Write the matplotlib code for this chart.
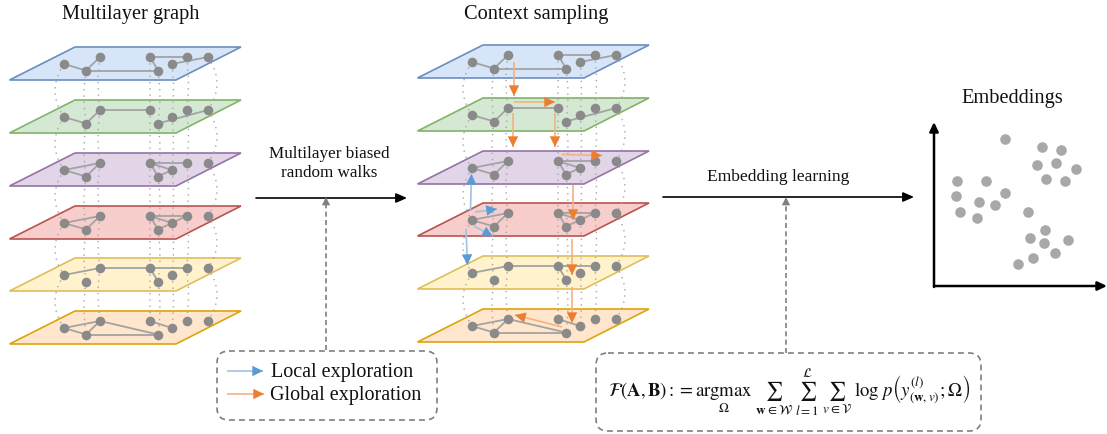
import matplotlib
matplotlib.use("Agg")
import matplotlib.pyplot as plt
from matplotlib.patches import Polygon, FancyBboxPatch, FancyArrowPatch, PathPatch
from matplotlib.path import Path

plt.rcParams['font.family'] = ['Liberation Serif', 'DejaVu Serif']
plt.rcParams['mathtext.fontset'] = 'stix'

# layers, top to bottom
layer_fill = ['#D6E5F8', '#D5E8D4', '#E1D5E7', '#F8CECC', '#FFF2CC', '#FFE6CC']
layer_edge = ['#6C8EBF', '#82B366', '#9673A6', '#B85450', '#E0BE5A', '#DFA30A']
layer_top_1 = [48, 101, 154, 207, 259, 312]
layer_top_2 = [46, 99, 152, 204, 257, 310]

# the 8 nodes, x and y relative to the top edge of the layer
node_x = [64, 86, 100, 150, 158, 172, 186.5, 208]
node_dy = [17, 23.5, 10, 10, 23.5, 17, 10, 10]
# sideways bow of the dotted link between layers
node_bow = [-9, -2, -2, 0, 2, 1.5, 2, 9]

edges = [
    [(0, 1), (1, 2), (1, 4), (3, 4), (3, 6), (5, 7)],
    [(0, 1), (1, 2), (2, 3), (4, 7)],
    [(0, 2), (0, 1), (1, 2), (3, 6), (3, 5), (3, 4), (4, 5)],
    [(0, 2), (0, 1), (1, 2), (3, 6), (3, 4), (3, 5), (4, 5), (5, 6)],
    [(0, 2), (2, 3), (3, 6), (3, 4)],
    [(0, 2), (0, 1), (1, 2), (2, 4), (1, 4), (3, 5)],
]

# walk arrows of the middle panel (x0, y0, x1, y1)
global_walk = [
    (514, 63, 514, 97), (514, 103, 555, 103), (513, 114, 513, 148),
    (555, 114, 555, 148), (562, 155.5, 602, 156.5), (573, 186, 573, 221),
    (572, 240, 572, 276), (572, 288, 572, 324), (562, 328, 515, 316),
]
local_walk = [
    (470.5, 212, 471.5, 175), (475, 213, 497, 210),
    (474, 227, 493, 237.5), (466, 230, 467.5, 266),
]

embed_x = [1005, 1042, 1061, 1037, 1056, 1076, 1046, 1065, 957, 986, 1005, 956,
           979, 995, 960, 977, 1028, 1045, 1030, 1044, 1068, 1055, 1033, 1018]
embed_y = [140, 148, 151, 166, 164, 170, 180, 182, 182, 182, 194, 197,
           203, 206, 213, 219, 213, 231, 239, 244, 241, 254, 259, 265]

fig = plt.figure(figsize=(11.07, 4.35), dpi=100)
ax = fig.add_axes([0, 0, 1, 1])
ax.set_xlim(0, 1107)
ax.set_ylim(435, 0)
ax.axis('off')


def draw_stack(tops, x_off):
    for i, top in enumerate(tops):
        ax.add_patch(Polygon([(x_off + 9.5, top + 33), (x_off + 75, top), (x_off + 241, top),
                              (x_off + 176, top + 33)], closed=True,
                             fc=layer_fill[i], ec=layer_edge[i], lw=1.2, zorder=1))
    # dotted links
    for i in range(len(tops) - 1):
        for x, dy, bow in zip(node_x, node_dy, node_bow):
            x0, y0 = x + x_off, tops[i] + dy
            y1 = tops[i + 1] + dy
            path = Path([(x0, y0), (x0 + 2 * bow, (y0 + y1) / 2), (x0, y1)],
                        [Path.MOVETO, Path.CURVE3, Path.CURVE3])
            ax.add_patch(PathPatch(path, fc='none', ec='#A6A6A6', lw=1.0,
                                   ls=(0, (1, 3.5)), zorder=2))
    for i, top in enumerate(tops):
        xs = [x + x_off for x in node_x]
        ys = [top + dy for dy in node_dy]
        for a, b in edges[i]:
            ax.plot([xs[a], xs[b]], [ys[a], ys[b]], color='#A3A3A3', lw=1.3, zorder=3)
        ax.scatter(xs, ys, s=48, color='#8A8A8A', linewidths=0, zorder=4)


def walk_arrow(x0, y0, x1, y1, line_col, head_col):
    ax.plot([x0, x1], [y0, y1], color=line_col, lw=1.2, zorder=5, solid_capstyle='butt')
    ax.add_patch(FancyArrowPatch((x0 + (x1 - x0) * 0.7, y0 + (y1 - y0) * 0.7), (x1, y1),
                                 arrowstyle='-|>,head_length=0.55,head_width=0.27',
                                 mutation_scale=14, lw=0, color=head_col,
                                 shrinkA=0, shrinkB=0, zorder=6))


draw_stack(layer_top_1, 0)
draw_stack(layer_top_2, 408)

for seg in global_walk:
    walk_arrow(*seg, '#F4B183', '#ED7D31')
for seg in local_walk:
    walk_arrow(*seg, '#9DC3E6', '#5B9BD5')

# main black arrows
for x0, x1, y in [(256, 407, 199), (663, 914, 198)]:
    ax.add_patch(FancyArrowPatch((x0, y), (x1, y), arrowstyle='-|>,head_length=0.5,head_width=0.22',
                                 mutation_scale=13, lw=1.2, color='black', shrinkA=0, shrinkB=0))

# dashed connectors
for x, y0 in [(326, 351), (786, 354)]:
    ax.plot([x, x], [y0, 206], color='#7F7F7F', lw=1.2, ls=(0, (3, 2)), zorder=2)
    ax.add_patch(FancyArrowPatch((x, 208), (x, 198), arrowstyle='-|>,head_length=0.5,head_width=0.25',
                                 mutation_scale=12, lw=0, color='#7F7F7F', shrinkA=0, shrinkB=0))

# dashed boxes
for x0, y0, x1, y1 in [(217, 352, 437, 421), (596, 354, 981, 432)]:
    ax.add_patch(FancyBboxPatch((x0 + 10, y0 + 10), x1 - x0 - 20, y1 - y0 - 20,
                                boxstyle='round,pad=10,rounding_size=12',
                                fc='white', ec='#7F7F7F', lw=1.2, ls=(0, (3.5, 2.5)), zorder=2))

# legend
walk_arrow(227, 372, 263, 372, '#9DC3E6', '#5B9BD5')
walk_arrow(227, 395, 264, 395, '#F4B183', '#ED7D31')
ax.text(271, 373, 'Local exploration', fontsize=14.5, ha='left', va='center', color='#111111')
ax.text(270, 396, 'Global exploration', fontsize=14.5, ha='left', va='center', color='#111111')

# embeddings
ax.add_patch(FancyArrowPatch((934, 288), (934, 123), arrowstyle='-|>,head_length=0.42,head_width=0.2',
                             mutation_scale=13, lw=1.8, color='black', shrinkA=0, shrinkB=0))
ax.add_patch(FancyArrowPatch((934, 287), (1107, 287), arrowstyle='-|>,head_length=0.42,head_width=0.2',
                             mutation_scale=13, lw=1.8, color='black', shrinkA=0, shrinkB=0))
ax.scatter(embed_x, embed_y, s=58, color='#A8A8A8', linewidths=0, zorder=3)

# titles and labels
ax.text(131, 15, 'Multilayer graph', fontsize=14.7, ha='center', va='center', color='#111111')
ax.text(536, 15, 'Context sampling', fontsize=14.7, ha='center', va='center', color='#111111')
ax.text(1012, 98.5, 'Embeddings', fontsize=14.7, ha='center', va='center', color='#111111')
ax.text(329, 154, 'Multilayer biased', fontsize=12.3, ha='center', va='center', color='#111111')
ax.text(329, 173, 'random walks', fontsize=12.3, ha='center', va='center', color='#111111')
ax.text(778, 177, 'Embedding learning', fontsize=12.6, ha='center', va='center', color='#111111')

formula = (r'$\mathcal{F}(\mathbf{A},\mathbf{B}) := \underset{\Omega}{\mathrm{argmax}}'
           r'\ \sum_{\mathbf{w}\in\mathcal{W}}\ \sum_{l=1}^{\mathcal{L}}\ \sum_{v\in\mathcal{V}}'
           r'\ \log\, p\left(y_{(\mathbf{w},v)}^{(l)};\Omega\right)$')
ax.text(789, 392, formula, fontsize=13.5, ha='center', va='center', color='#111111', zorder=5)

fig.savefig('out.png', dpi=100)
